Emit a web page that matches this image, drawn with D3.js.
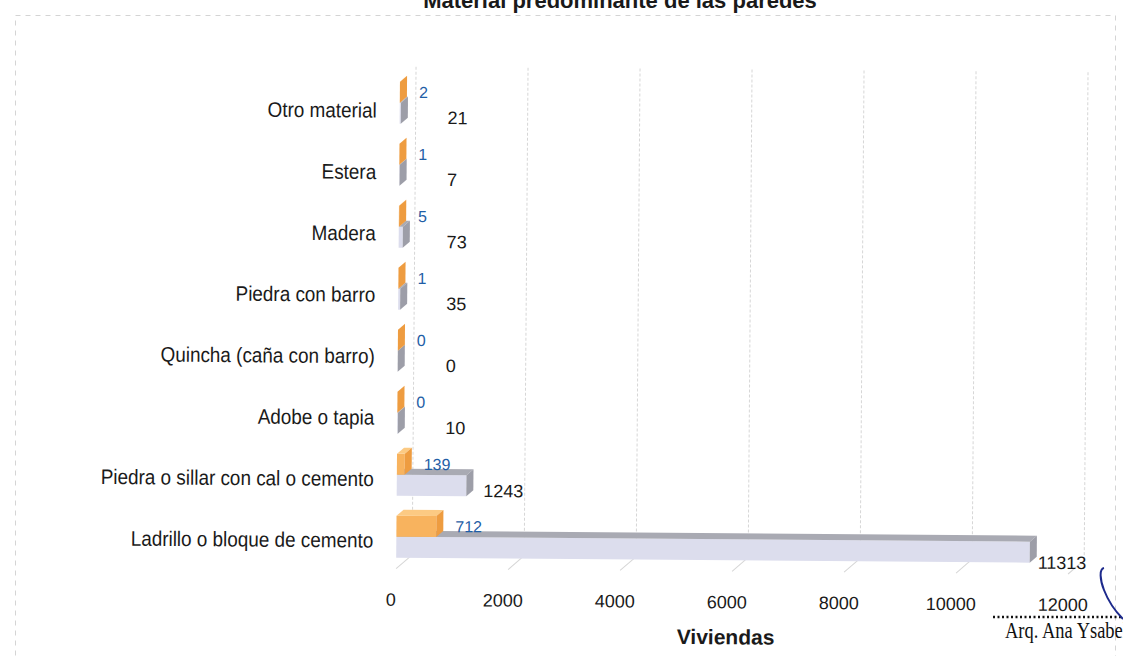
<!DOCTYPE html>
<html>
<head>
<meta charset="utf-8">
<script src="https://cdn.jsdelivr.net/npm/d3@7"></script>
<style>
  html, body { margin: 0; padding: 0; background: #fff; }
  svg { display: block; }
</style>
</head>
<body>
<svg id="chart" width="1123" height="656"></svg>
<script>
// Material predominante de las paredes: viviendas por tipo de material
const categories = [
  "Otro material",
  "Estera",
  "Madera",
  "Piedra con barro",
  "Quincha (caña con barro)",
  "Adobe o tapia",
  "Piedra o sillar con cal o cemento",
  "Ladrillo o bloque de cemento"
];
const seriesOrange = [2, 1, 5, 1, 0, 0, 139, 712];
const seriesLavender = [21, 7, 73, 35, 0, 10, 1243, 11313];
const xTicks = [0, 2000, 4000, 6000, 8000, 10000, 12000];
const titleText = "Material predominante de las paredes";
const axisTitle = "Viviendas";

const svg = d3.select("#chart");
const FONT = "Liberation Sans, Arial, sans-serif";

// chart area border (light, dashed)
svg.append("rect")
  .attr("x", 15.5).attr("y", 15.5)
  .attr("width", 1100).attr("height", 660)
  .attr("fill", "none")
  .attr("stroke", "#d4d4d4")
  .attr("stroke-dasharray", "5,5");

// title, pushed to the top edge
svg.append("text")
  .attr("x", 620).attr("y", 8)
  .attr("text-anchor", "middle")
  .attr("font-family", FONT)
  .attr("font-weight", "bold")
  .attr("font-size", 22)
  .attr("fill", "#1a1a1a")
  .text(titleText);

const g = svg.append("g").attr("transform", "rotate(0.45, 560, 328)");

const x = d3.scaleLinear().domain([0, 12000]).range([398, 1070]);
const y = d3.scaleBand().domain(categories).range([73, 73 + 62 * categories.length]);
const yLabel = d3.scalePoint().domain(categories).range([119, 549]);

const depthX = 16, depthY = 14;        // wall offset
const barDX = 7, barDY = 6;             // bar depth
const barH = 21;
const yTop = 68, yFloor = y.range()[1] - 5;

// back wall gridlines
g.append("g").selectAll("line").data(xTicks).join("line")
  .attr("x1", d => x(d) + depthX).attr("x2", d => x(d) + depthX)
  .attr("y1", yTop).attr("y2", yFloor - depthY + 2)
  .attr("stroke", "#d6d6d6")
  .attr("stroke-width", 1)
  .attr("stroke-dasharray", "3,2");

// floor diagonals
g.append("g").selectAll("line").data(xTicks).join("line")
  .attr("x1", d => x(d)).attr("x2", d => x(d) + depthX)
  .attr("y1", yFloor + 6).attr("y2", yFloor - depthY + 6)
  .attr("stroke", "#d6d6d6")
  .attr("stroke-width", 1);

// 3D bar drawing
function drawBars(values, offset, colors) {
  const grp = g.append("g");
  categories.forEach((c, i) => {
    const v = values[i];
    const y0 = y(c) + y.bandwidth() / 2 + offset;
    const x0 = x(0), x1 = x(v);
    const b = grp.append("g");
    b.append("rect")
      .attr("x", x0).attr("y", y0)
      .attr("width", Math.max(0, x1 - x0)).attr("height", barH)
      .attr("fill", colors.front);
    b.append("polygon")
      .attr("points", [[x0, y0], [x0 + barDX, y0 - barDY], [x1 + barDX, y0 - barDY], [x1, y0]].map(p => p.join(",")).join(" "))
      .attr("fill", colors.top);
    b.append("polygon")
      .attr("points", [[x1, y0], [x1 + barDX, y0 - barDY], [x1 + barDX, y0 + barH - barDY], [x1, y0 + barH]].map(p => p.join(",")).join(" "))
      .attr("fill", colors.side);
  });
}

drawBars(seriesLavender, 0, { front: "#dcdded", top: "#a9aab3", side: "#9d9ea8" });
drawBars(seriesOrange, -barH, { front: "#f8b35e", top: "#fcca83", side: "#ee9c40" });

// value labels, orange series
g.append("g").selectAll("text").data(seriesOrange).join("text")
  .attr("x", d => x(d) + 19)
  .attr("y", (d, i) => y(categories[i]) + y.bandwidth() / 2 - 5)
  .attr("font-family", FONT)
  .attr("font-size", 16)
  .attr("fill", "#1f5ea6")
  .text(d => d);

// value labels, lavender series
const xMax = d3.max(seriesLavender);
g.append("g").selectAll("text").data(seriesLavender).join("text")
  .attr("x", d => Math.max(x(d) + 18 - 10 * d / xMax, 446))
  .attr("y", (d, i) => y(categories[i]) + y.bandwidth() / 2 + 21 + 6 * d / xMax)
  .attr("font-family", FONT)
  .attr("font-size", 18)
  .attr("fill", "#1a1a1a")
  .text(d => d);

// category labels
g.append("g").selectAll("text").data(categories).join("text")
  .attr("transform", d => `translate(375,${yLabel(d)}) scale(0.9,1)`)
  .attr("text-anchor", "end")
  .attr("font-family", FONT)
  .attr("font-size", 21)
  .attr("fill", "#1a1a1a")
  .text(d => d);

// x tick labels
g.append("g").selectAll("text").data(xTicks).join("text")
  .attr("x", d => x(d) - 5)
  .attr("y", 607)
  .attr("text-anchor", "middle")
  .attr("font-family", FONT)
  .attr("font-size", 18)
  .attr("fill", "#1a1a1a")
  .text(d => d);

// axis title
g.append("text")
  .attr("x", 728).attr("y", 643)
  .attr("text-anchor", "middle")
  .attr("font-family", FONT)
  .attr("font-weight", "bold")
  .attr("font-size", 21)
  .attr("fill", "#1a1a1a")
  .text(axisTitle);

// signature block, lower right
svg.append("line")
  .attr("x1", 993).attr("x2", 1123)
  .attr("y1", 617).attr("y2", 617)
  .attr("stroke", "#111")
  .attr("stroke-width", 2.5)
  .attr("stroke-dasharray", "2,2.5");
svg.append("text")
  .attr("transform", "translate(1005,638) scale(0.77,1)")
  .attr("font-family", "Liberation Serif, Times New Roman, serif")
  .attr("font-size", 24)
  .attr("fill", "#111")
  .text("Arq. Ana Ysabel");
svg.append("path")
  .attr("d", "M1104,568 C1099,569 1100,580 1104,590 C1109,603 1115,611 1123,619")
  .attr("fill", "none")
  .attr("stroke", "#1d2a8c")
  .attr("stroke-width", 2);
</script>
</body>
</html>
